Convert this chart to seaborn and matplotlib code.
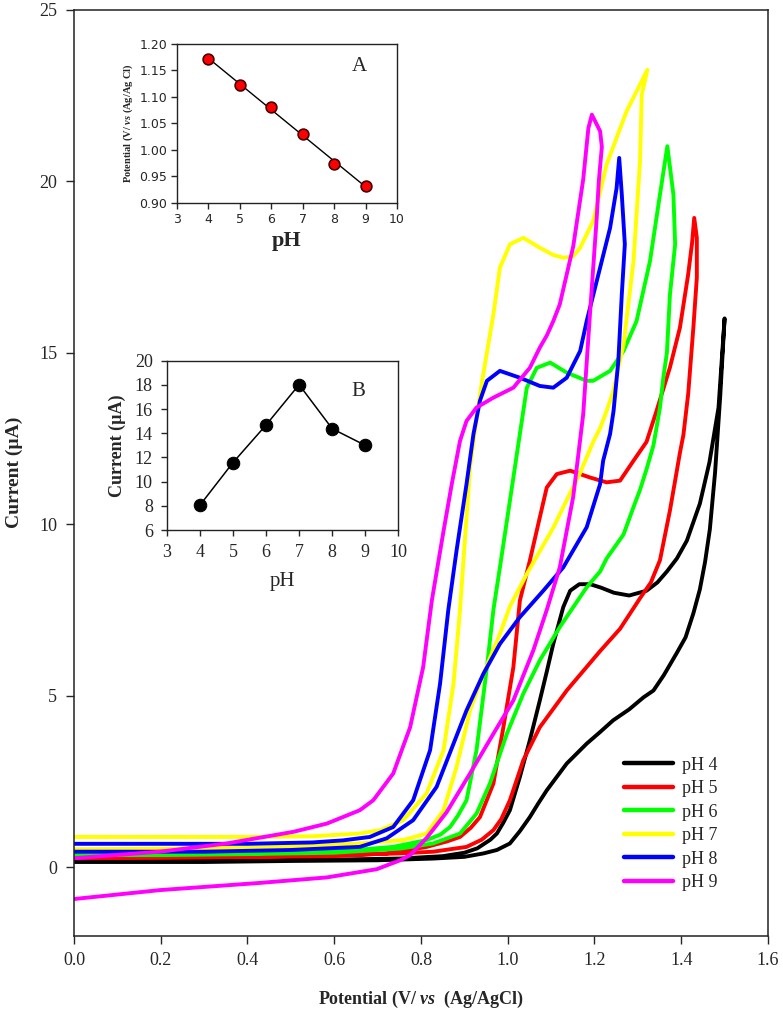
import matplotlib
matplotlib.use("Agg")
import numpy as np
import pandas as pd
import seaborn as sns
import matplotlib.pyplot as plt

# main voltammograms: "up" = branch with the plateau, "dn" = return branch from the vertex
ph_labels = ["pH 4", "pH 5", "pH 6", "pH 7", "pH 8", "pH 9"]
ph_colors = ["#000000", "#ff0000", "#00ff00", "#ffff00", "#0000ff", "#ff00ff"]

v_up_4 = [0.0, 0.2, 0.4, 0.6, 0.75, 0.85, 0.9, 0.93, 0.96, 0.975, 0.99, 1.005, 1.028, 1.051, 1.074, 1.09, 1.105,
          1.128, 1.144, 1.165, 1.19, 1.215, 1.245, 1.28, 1.32, 1.345, 1.367, 1.39, 1.413, 1.443, 1.465, 1.486, 1.5]
i_up_4 = [0.2, 0.2, 0.2, 0.22, 0.25, 0.32, 0.42, 0.55, 0.8, 0.98, 1.3, 1.66, 2.63, 3.7, 4.86, 5.7, 6.51,
          7.58, 8.06, 8.25, 8.25, 8.15, 8.0, 7.92, 8.06, 8.3, 8.62, 9.0, 9.52, 10.6, 11.8, 13.4, 16.0]
v_dn_4 = [1.5, 1.49, 1.478, 1.466, 1.455, 1.443, 1.428, 1.41, 1.39, 1.36, 1.336, 1.313, 1.28, 1.243, 1.213, 1.182,
          1.136, 1.09, 1.07, 1.051, 1.028, 1.005, 0.975, 0.944, 0.9, 0.828, 0.7, 0.5, 0.3, 0.1, 0.0]
i_dn_4 = [16.0, 13.75, 11.5, 9.85, 8.9, 8.1, 7.4, 6.7, 6.25, 5.6, 5.15, 4.95, 4.6, 4.28, 3.94, 3.6,
          3.02, 2.24, 1.85, 1.46, 1.05, 0.69, 0.5, 0.4, 0.3, 0.25, 0.2, 0.18, 0.15, 0.15, 0.15]

v_up_5 = [0.0, 0.2, 0.4, 0.6, 0.721, 0.813, 0.86, 0.89, 0.915, 0.936, 0.95, 0.967, 0.99, 1.013, 1.028, 1.051,
          1.074, 1.09, 1.113, 1.144, 1.19, 1.228, 1.259, 1.29, 1.32, 1.343, 1.374, 1.397, 1.416, 1.425, 1.43]
i_up_5 = [0.3, 0.3, 0.3, 0.32, 0.4, 0.59, 0.75, 0.88, 1.15, 1.46, 1.9, 2.44, 4.08, 5.83, 7.77, 8.94,
          10.2, 11.07, 11.46, 11.56, 11.36, 11.22, 11.27, 11.85, 12.4, 13.3, 14.57, 15.73, 17.28, 18.2, 18.93]
v_dn_5 = [1.43, 1.436, 1.436, 1.428, 1.416, 1.405, 1.397, 1.385, 1.374, 1.351, 1.33, 1.305, 1.259, 1.213, 1.136,
          1.074, 1.036, 1.005, 0.985, 0.967, 0.94, 0.905, 0.828, 0.752, 0.6, 0.4, 0.2, 0.0]
i_dn_5 = [18.93, 18.35, 17.19, 15.73, 13.79, 12.6, 12.08, 11.2, 10.4, 8.95, 8.3, 7.84, 6.95, 6.3, 5.15,
          4.08, 3.12, 1.95, 1.4, 1.08, 0.8, 0.59, 0.45, 0.4, 0.35, 0.3, 0.27, 0.26]

v_up_6 = [0.0, 0.2, 0.4, 0.6, 0.736, 0.813, 0.845, 0.867, 0.885, 0.905, 0.928, 0.952, 0.967, 0.982, 1.005, 1.028,
          1.044, 1.067, 1.098, 1.136, 1.182, 1.197, 1.236, 1.267, 1.297, 1.328, 1.351, 1.368]
i_up_6 = [0.4, 0.4, 0.4, 0.45, 0.59, 0.79, 0.95, 1.17, 1.5, 1.95, 3.41, 5.83, 7.5, 8.74, 10.68, 12.63,
          13.98, 14.56, 14.71, 14.42, 14.18, 14.18, 14.47, 15.05, 15.92, 17.67, 19.61, 21.02]
v_dn_6 = [1.368, 1.382, 1.386, 1.374, 1.367, 1.359, 1.351, 1.336, 1.32, 1.305, 1.29, 1.267, 1.228, 1.213, 1.182,
          1.12, 1.074, 1.036, 0.998, 0.959, 0.928, 0.89, 0.828, 0.752, 0.6, 0.4, 0.2, 0.0]
i_dn_6 = [21.02, 19.61, 18.16, 16.7, 15.0, 14.3, 13.4, 12.3, 11.6, 11.0, 10.5, 9.7, 9.0, 8.62, 8.16,
          7.0, 6.03, 5.06, 3.89, 2.44, 1.56, 0.98, 0.69, 0.54, 0.42, 0.38, 0.35, 0.35]

v_up_7 = [0.0, 0.2, 0.4, 0.55, 0.659, 0.706, 0.759, 0.813, 0.852, 0.875, 0.89, 0.913, 0.936, 0.952, 0.967, 0.982,
          1.005, 1.036, 1.074, 1.105, 1.128, 1.15, 1.167, 1.197, 1.228, 1.274, 1.322]
i_up_7 = [0.88, 0.88, 0.88, 0.9, 0.98, 1.08, 1.37, 2.15, 3.41, 5.35, 7.5, 11.65, 13.79, 15.0, 16.12, 17.48,
          18.16, 18.35, 18.06, 17.85, 17.77, 17.8, 18.06, 18.84, 20.49, 22.04, 23.25]
v_dn_7 = [1.322, 1.309, 1.305, 1.29, 1.267, 1.244, 1.228, 1.213, 1.197, 1.167, 1.105, 1.044, 1.005, 0.982, 0.944,
          0.913, 0.882, 0.852, 0.813, 0.759, 0.659, 0.5, 0.3, 0.0]
i_dn_7 = [23.25, 22.52, 20.58, 17.67, 15.25, 13.9, 13.3, 12.8, 12.4, 11.5, 9.9, 8.55, 7.6, 6.8, 5.64,
          4.57, 2.92, 1.66, 0.98, 0.79, 0.69, 0.6, 0.55, 0.52]

v_up_8 = [0.0, 0.2, 0.4, 0.55, 0.62, 0.682, 0.736, 0.782, 0.821, 0.844, 0.863, 0.882, 0.905, 0.921, 0.936, 0.952,
          0.982, 1.028, 1.074, 1.105, 1.136, 1.167, 1.182, 1.213, 1.236, 1.251, 1.257]
i_up_8 = [0.68, 0.68, 0.68, 0.72, 0.78, 0.88, 1.17, 1.95, 3.41, 5.35, 7.5, 9.23, 11.17, 12.63, 13.6, 14.18,
          14.47, 14.27, 14.03, 13.98, 14.27, 15.05, 15.92, 17.48, 18.64, 19.8, 20.68]
v_dn_8 = [1.257, 1.263, 1.27, 1.263, 1.255, 1.244, 1.236, 1.22, 1.213, 1.182, 1.128, 1.082, 1.028, 0.982, 0.944,
          0.905, 0.875, 0.836, 0.782, 0.721, 0.659, 0.5, 0.3, 0.0]
i_dn_8 = [20.68, 19.61, 18.16, 16.7, 14.76, 13.3, 12.63, 11.85, 11.17, 9.91, 8.74, 8.06, 7.29, 6.51, 5.64,
          4.57, 3.6, 2.34, 1.37, 0.84, 0.59, 0.5, 0.45, 0.45]

v_up_9 = [0.0, 0.198, 0.352, 0.506, 0.583, 0.659, 0.69, 0.736, 0.775, 0.805, 0.825, 0.84, 0.852, 0.871, 0.89, 0.905,
          0.928, 0.967, 1.013, 1.051, 1.074, 1.09, 1.105, 1.12, 1.151, 1.174, 1.186, 1.194]
i_up_9 = [0.26, 0.45, 0.69, 1.03, 1.27, 1.66, 1.95, 2.73, 4.08, 5.83, 7.77, 8.9, 9.8, 11.17, 12.43, 13.01,
          13.4, 13.69, 13.98, 14.56, 15.15, 15.5, 15.92, 16.41, 18.1, 20.05, 21.55, 21.94]
v_dn_9 = [1.194, 1.213, 1.217, 1.21, 1.205, 1.19, 1.174, 1.151, 1.12, 1.09, 1.059, 1.013, 0.967, 0.913, 0.859,
          0.813, 0.775, 0.752, 0.698, 0.583, 0.429, 0.198, 0.0]
i_dn_9 = [21.94, 21.46, 21.0, 20.0, 18.9, 16.2, 13.2, 10.8, 8.74, 7.5, 6.32, 4.86, 3.89, 2.73, 1.6,
          0.85, 0.35, 0.2, -0.06, -0.3, -0.46, -0.67, -0.93]

# inset A: peak potential vs pH
ph_values = [4, 5, 6, 7, 8, 9]
peak_potential = [1.172, 1.122, 1.081, 1.031, 0.973, 0.932]
potential_err = [0.004, 0.008, 0.007, 0.007, 0.007, 0.007]
# inset B: peak current vs pH
peak_current = [8.04, 11.57, 14.68, 18.02, 14.38, 13.0]

branches = [
    (v_up_4, i_up_4, v_dn_4, i_dn_4),
    (v_up_5, i_up_5, v_dn_5, i_dn_5),
    (v_up_6, i_up_6, v_dn_6, i_dn_6),
    (v_up_7, i_up_7, v_dn_7, i_dn_7),
    (v_up_8, i_up_8, v_dn_8, i_dn_8),
    (v_up_9, i_up_9, v_dn_9, i_dn_9),
]

frames = []
for label, (vu, iu, vd, idn) in zip(ph_labels, branches):
    frames.append(pd.DataFrame({"V": vu + vd[1:], "I": iu + idn[1:], "pH": label}))
cv = pd.concat(frames, ignore_index=True)

sns.set_style("ticks")
plt.rcParams["font.family"] = ["Liberation Serif", "DejaVu Serif"]
plt.rcParams["mathtext.fontset"] = "custom"
plt.rcParams["mathtext.it"] = "Liberation Serif:italic:bold"
plt.rcParams["mathtext.rm"] = "Liberation Serif:bold"
plt.rcParams["mathtext.bf"] = "Liberation Serif:bold"

fig = plt.figure(figsize=(7.83, 10.15), dpi=100)
ax = fig.add_axes([0.0945, 0.0781, 0.8863, 0.9123])

sns.lineplot(data=cv, x="V", y="I", hue="pH", palette=dict(zip(ph_labels, ph_colors)),
             sort=False, estimator=None, lw=2.8, ax=ax)

ax.set_xlim(0, 1.6)
ax.set_ylim(-2, 25)
ax.set_xticks(np.arange(0, 1.61, 0.2))
ax.set_xticklabels([f"{t:.1f}" for t in np.arange(0, 1.61, 0.2)])
ax.set_yticks(range(0, 26, 5))
ax.tick_params(direction="out", length=6, width=1, labelsize=13, pad=6)
for s in ax.spines.values():
    s.set_color("#222222")
    s.set_linewidth(1.1)
ax.set_xlabel(r"Potential (V/ $vs$  (Ag/AgCl)", fontsize=13, fontweight="bold", labelpad=14)
ax.set_ylabel("Current (µA)", fontsize=14, fontweight="bold", labelpad=12)

handles, labels = ax.get_legend_handles_labels()
leg = ax.legend(handles, labels, loc="upper left", bbox_to_anchor=(0.78, 0.203), frameon=False,
                fontsize=13, handlelength=2.7, handletextpad=0.5, labelspacing=0.36, borderpad=0)
for h in leg.get_lines():
    h.set_linewidth(3.2)

# inset A
axa = fig.add_axes([0.226, 0.8, 0.281, 0.1567])
axa.errorbar(ph_values, peak_potential, yerr=potential_err, fmt="none", ecolor="black", elinewidth=1, capsize=2)
sns.regplot(x=ph_values, y=peak_potential, ci=None, scatter=False, color="black",
            line_kws={"lw": 1}, ax=axa)
sns.scatterplot(x=ph_values, y=peak_potential, color="#ff0000", edgecolor="#4a0000", linewidth=1.2,
                s=60, marker="o", ax=axa, zorder=5)
axa.set_xlim(3, 10)
axa.set_ylim(0.9, 1.2)
axa.set_xticks(range(3, 11))
axa.set_yticks(np.arange(0.9, 1.201, 0.05))
axa.set_yticklabels([f"{t:.2f}" for t in np.arange(0.9, 1.201, 0.05)])
for t in axa.get_xticklabels() + axa.get_yticklabels():
    t.set_family("DejaVu Sans")
axa.tick_params(direction="out", length=4, width=1, labelsize=9, pad=3)
axa.set_xlabel("pH", fontsize=16, fontweight="bold", labelpad=4)
axa.set_ylabel(r"Potential (V/ $vs$ (Ag/Ag Cl)", fontsize=7.5, fontweight="bold", labelpad=3)
axa.text(8.8, 1.157, "A", fontsize=15, ha="center", va="center")
for s in axa.spines.values():
    s.set_color("#222222")
    s.set_linewidth(1)

# inset B
axb = fig.add_axes([0.2129, 0.4778, 0.2959, 0.1668])
sns.lineplot(x=ph_values, y=peak_current, color="black", lw=1.1, marker="o", markersize=9,
             markeredgecolor="black", ax=axb)
axb.set_xlim(3, 10)
axb.set_ylim(6, 20)
axb.set_xticks(range(3, 11))
axb.set_yticks(range(6, 21, 2))
axb.tick_params(direction="out", length=4, width=1, labelsize=13, pad=6)
axb.set_xlabel("pH", fontsize=15, labelpad=8)
axb.set_ylabel("Current (µA)", fontsize=13, fontweight="bold", labelpad=6)
axb.text(8.8, 17.43, "B", fontsize=15, ha="center", va="center")
for s in axb.spines.values():
    s.set_color("#222222")
    s.set_linewidth(1)

fig.savefig("out.png", dpi=100)
